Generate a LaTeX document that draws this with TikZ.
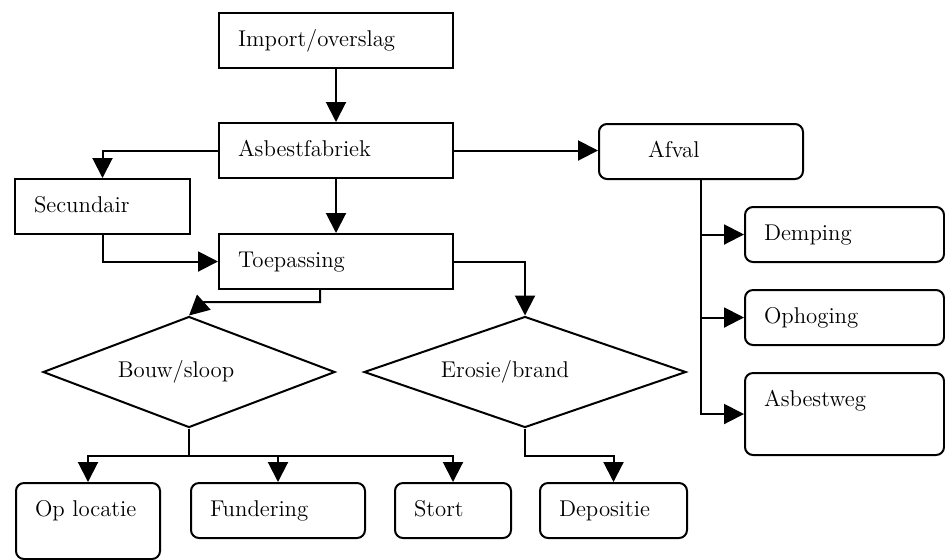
\documentclass[tikz,border=0pt]{standalone}
\usetikzlibrary{arrows.meta,shapes.geometric}
\begin{document}
\begin{tikzpicture}[x=0.5pt,y=-0.5pt,
  every node/.style={font=\fontsize{11.4}{13}\selectfont},
  box/.style={draw,line width=1pt,anchor=north west,align=left,inner xsep=9.5pt,
    minimum height=27.5pt,text height=8pt,text depth=2.5pt},
  rbox/.style={box,rounded corners=4pt},
  dia/.style={draw,diamond,line width=1pt,inner sep=0pt},
  arr/.style={line width=1pt,-{Triangle[length=10pt,width=10pt]}},
  ln/.style={line width=1pt}]
\useasboundingbox (0,0) rectangle (945,559);
% boxes
\node[box,text width=98pt] (imp) at (218,12) {Import/overslag};
\node[box,text width=98pt] (asb) at (218,122) {Asbestfabriek};
\node[box,text width=68.5pt] (sec) at (14,178) {Secundair};
\node[box,text width=98pt] (toe) at (218,233) {Toepassing};
\node[rbox,text width=83pt] (afv) at (598,123) {\hspace*{15pt}Afval};
\node[rbox,text width=80.5pt] (dem) at (744,206) {Demping};
\node[rbox,text width=80.5pt] (oph) at (744,289) {Ophoging};
\node[rbox,text width=80.5pt,minimum height=0pt,inner ysep=8.5pt,text depth=16pt] (asw) at (744,372) {Asbestweg};
\node[rbox,text width=53pt,minimum height=0pt,inner ysep=8.5pt,text depth=13pt] (opl) at (15,482) {Op locatie};
\node[rbox,text width=68pt] (fun) at (190,482) {Fundering};
\node[rbox,text width=39pt] (sto) at (394,482) {Stort};
\node[rbox,text width=54.5pt] (dep) at (539,482) {Depositie};
% diamonds
\node[dia,shape aspect=2.6,minimum width=146pt,minimum height=55.5pt] (bouw) at (189,372) {Bouw/sloop\hspace*{13pt}};
\node[dia,shape aspect=2.9,minimum width=161pt,minimum height=55.5pt] (ero) at (525,372) {Erosie/brand\hspace*{20pt}};
% connectors
\draw[arr] (imp.south) -- (asb.north);
\draw[arr] (asb.west) -| (sec.north);
\draw[arr] (asb.south) -- (toe.north);
\draw[arr] (sec.south) |- (toe.west);
\draw[arr] (asb.east) -- (asb.east -| afv.west);
\draw[arr] (afv.south) |- (dem.west);
\draw[arr] (afv.south) |- (oph.west);
\draw[arr] (afv.south) |- (asw.west);
\draw[arr] (toe.east) -| (ero.north);
\coordinate (tb) at (320,302);
\draw[arr] (toe.south -| tb) -- (tb) -- ++(-116,0) -- (bouw.north);
\draw[arr] (bouw.south) -- ++(0,27) -| (opl.north);
\draw[arr] (bouw.south) -- ++(0,27) -| (fun.north);
\draw[arr] (bouw.south) -- ++(0,27) -| (sto.north);
\draw[arr] (ero.south) -- ++(0,27) -| (dep.north);
\end{tikzpicture}
\end{document}
